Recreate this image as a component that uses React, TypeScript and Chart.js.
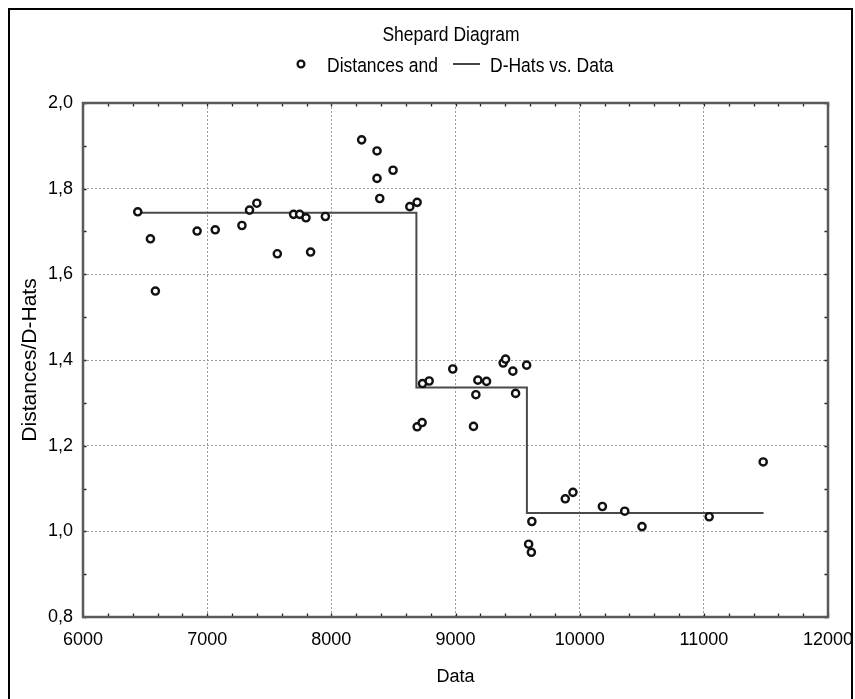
import React, { useEffect, useRef } from 'react';
import { Chart, registerables } from 'chart.js';

Chart.register(...registerables);

// ---- data ----
const distX = [6441, 6543, 6583, 6919, 7065, 7280, 7341, 7400, 7565, 7696, 7745, 7796, 7833, 7952, 8244, 8368, 8497, 8368, 8390, 8632, 8691, 8734, 8788, 8691, 8731, 8978, 9180, 9250, 9164, 9145, 9384, 9403, 9462, 9573, 9484, 9615, 9589, 9611, 9884, 9946, 10183, 10363, 10502, 11043, 11478];
const distY = [1.746, 1.683, 1.561, 1.701, 1.704, 1.714, 1.750, 1.766, 1.648, 1.740, 1.740, 1.732, 1.652, 1.735, 1.914, 1.888, 1.843, 1.824, 1.777, 1.758, 1.768, 1.345, 1.351, 1.244, 1.254, 1.379, 1.353, 1.350, 1.319, 1.245, 1.393, 1.402, 1.374, 1.388, 1.322, 1.023, 0.970, 0.951, 1.076, 1.091, 1.058, 1.047, 1.011, 1.034, 1.162];
const dHatX = [6441, 8685, 9575, 11481];
const dHatY = [1.744, 1.336, 1.043, 1.043];
const xTicks = [6000, 7000, 8000, 9000, 10000, 11000, 12000];
const yTicks = [0.8, 1.0, 1.2, 1.4, 1.6, 1.8, 2.0];
const chartTitle = 'Shepard Diagram';
const legendLabels = ['Distances and', 'D-Hats vs. Data'];
const xAxisTitle = 'Data';
const yAxisTitle = 'Distances/D-Hats';

const FONT = "'Liberation Sans', Arial, sans-serif";

function stretchedText(ctx: CanvasRenderingContext2D, text: string, x: number, y: number, align: CanvasTextAlign) {
  ctx.save();
  ctx.translate(x, y);
  ctx.scale(1, 1.18);
  ctx.textAlign = align;
  ctx.textBaseline = 'alphabetic';
  ctx.fillText(text, 0, 0);
  ctx.restore();
}

const decorPlugin = {
  id: 'decor',
  beforeDatasetsDraw(chart: any) {
    const { ctx, chartArea: a, scales } = chart;
    const xs = scales.x;
    const ys = scales.y;
    ctx.save();
    // minor ticks (inward) on all four sides
    ctx.strokeStyle = '#222';
    ctx.lineWidth = 1.3;
    ctx.beginPath();
    for (let v = xs.min; v <= xs.max + 1e-6; v += 200) {
      const px = Math.round(xs.getPixelForValue(v)) + 0.5;
      ctx.moveTo(px, a.top);
      ctx.lineTo(px, a.top + 3.5);
      ctx.moveTo(px, a.bottom);
      ctx.lineTo(px, a.bottom - 3.5);
    }
    for (let v = ys.min; v <= ys.max + 1e-6; v += 0.1) {
      const py = Math.round(ys.getPixelForValue(v)) + 0.5;
      ctx.moveTo(a.left, py);
      ctx.lineTo(a.left + 3.5, py);
      ctx.moveTo(a.right, py);
      ctx.lineTo(a.right - 3.5, py);
    }
    ctx.stroke();
    // plot frame
    ctx.strokeStyle = '#5a5a5a';
    ctx.lineWidth = 2.5;
    ctx.strokeRect(a.left, a.top, a.right - a.left, a.bottom - a.top);
    ctx.restore();
  },
  afterDraw(chart: any) {
    const { ctx } = chart;
    ctx.save();
    // outer border
    ctx.strokeStyle = '#000';
    ctx.lineWidth = 2;
    ctx.strokeRect(9, 9, 843, 720);
    // title
    ctx.fillStyle = '#000';
    ctx.font = `17.5px ${FONT}`;
    stretchedText(ctx, chartTitle, 451, 40.5, 'center');
    // legend
    const ly = 64;
    ctx.beginPath();
    ctx.arc(301, ly, 3.4, 0, Math.PI * 2);
    ctx.fillStyle = '#fff';
    ctx.fill();
    ctx.lineWidth = 2.3;
    ctx.strokeStyle = '#111';
    ctx.stroke();
    ctx.fillStyle = '#000';
    stretchedText(ctx, legendLabels[0], 327, 71.5, 'left');
    ctx.beginPath();
    ctx.moveTo(453, ly);
    ctx.lineTo(480, ly);
    ctx.strokeStyle = '#444';
    ctx.lineWidth = 2;
    ctx.stroke();
    stretchedText(ctx, legendLabels[1], 490, 71.5, 'left');
    ctx.restore();
  },
};

export default function App() {
  const ref = useRef<HTMLCanvasElement>(null);
  useEffect(() => {
    if (!ref.current) return;
    const chart = new Chart(ref.current, {
      type: 'scatter',
      data: {
        datasets: [
          {
            label: legendLabels[0],
            data: distX.map((x, i) => ({ x, y: distY[i] })),
            pointRadius: 3.6,
            pointBorderWidth: 2.4,
            pointBorderColor: '#111',
            pointBackgroundColor: '#fff',
            showLine: false,
          },
          {
            type: 'line',
            label: legendLabels[1],
            data: dHatX.map((x, i) => ({ x, y: dHatY[i] })),
            stepped: 'before',
            borderColor: '#4a4a4a',
            borderWidth: 2,
            pointRadius: 0,
            fill: false,
            showLine: true,
          } as any,
        ],
      },
      options: {
        responsive: false,
        animation: false,
        layout: { padding: { left: 8, right: 27, top: 103, bottom: 0 } },
        plugins: {
          legend: { display: false },
          title: { display: false },
          tooltip: { enabled: false },
        },
        scales: {
          x: {
            type: 'linear',
            min: 6000,
            max: 12000,
            afterBuildTicks: (s: any) => {
              s.ticks = xTicks.map((v) => ({ value: v }));
            },
            afterFit: (s: any) => {
              s.height = 82;
              s.paddingLeft = 0;
              s.paddingRight = 0;
            },
            ticks: {
              color: '#000',
              padding: 12,
              font: { family: FONT, size: 18 },
              callback: (v: any) => String(v),
            },
            grid: { color: '#9a9a9a', lineWidth: 1, drawTicks: false },
            border: { display: false, dash: [2, 2] },
            title: {
              display: true,
              text: xAxisTitle,
              color: '#000',
              font: { family: FONT, size: 18 },
              padding: { top: 0, bottom: 11 },
            },
          },
          y: {
            type: 'linear',
            min: 0.8,
            max: 2.0,
            afterBuildTicks: (s: any) => {
              s.ticks = yTicks.map((v) => ({ value: v }));
            },
            afterFit: (s: any) => {
              s.width = 75;
              s.paddingTop = 0;
              s.paddingBottom = 0;
            },
            ticks: {
              color: '#000',
              padding: 10,
              font: { family: FONT, size: 18 },
              callback: (v: any) => Number(v).toFixed(1).replace('.', ','),
            },
            grid: { color: '#9a9a9a', lineWidth: 1, drawTicks: false },
            border: { display: false, dash: [2, 2] },
            title: {
              display: true,
              text: yAxisTitle,
              color: '#000',
              font: { family: FONT, size: 21 },
              padding: { top: 10, bottom: 0 },
            },
          },
        },
      },
      plugins: [decorPlugin],
    });
    return () => chart.destroy();
  }, []);
  return (
    <div style={{ position: 'fixed', left: 0, top: 0, width: 855, height: 699, background: '#fff' }}>
      <canvas ref={ref} width={855} height={699} style={{ width: 855, height: 699, display: 'block' }} />
    </div>
  );
}
